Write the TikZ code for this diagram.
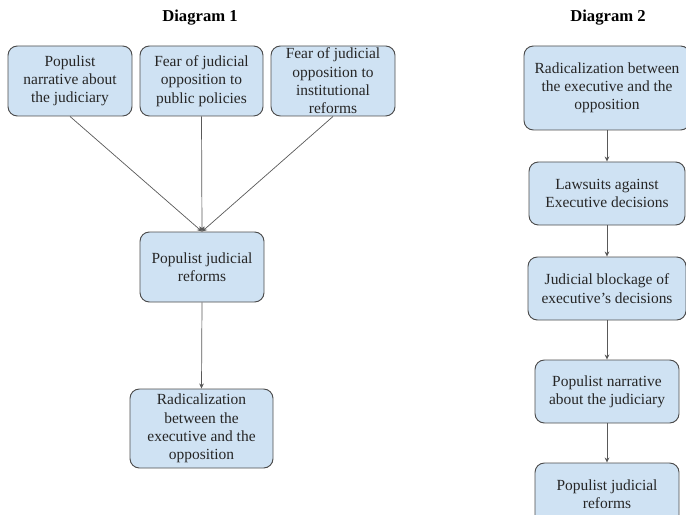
\documentclass[tikz,border=0pt]{standalone}
\usepackage{fontspec}
\setmainfont{Liberation Serif}
\usetikzlibrary{arrows.meta,positioning}
\definecolor{boxfill}{HTML}{CFE2F3}
\definecolor{boxline}{HTML}{4D4D4D}
\definecolor{boxtext}{HTML}{262626}

\begin{document}
\begin{tikzpicture}[
  font=\fontsize{13.2}{15.6}\selectfont,
  box/.style={draw=boxline, line width=0.8pt, rounded corners=8pt, align=center, text=boxtext, fill=boxfill, minimum width=#1, minimum height=2.1cm, inner sep=1pt},
  box/.default=3.72cm,
  title/.style={font=\fontsize{14.2}{16}\selectfont\bfseries},
  arr/.style={-{Stealth[length=1.5mm,width=1.4mm]}, line width=0.6pt, black!65},
  ]
\useasboundingbox (0,0) rectangle (20.58,-15.45);
% titles
\node[title] (t1) at (6.00,-0.54) {Diagram 1};
\node[title] (t2) at (18.24,-0.54) {Diagram 2};
% diagram 1
\node[box] (narr) at (2.10,-2.43) {Populist\\narrative about\\the judiciary};
\node[box=3.69cm] (fpol) at (6.045,-2.43) {Fear of judicial\\opposition to\\public policies};
\node[box] (finst) at (9.99,-2.43) {Fear of judicial\\opposition to\\institutional\\reforms};
\node[box] (ref1) at (6.06,-8.01) {Populist judicial\\reforms};
\node[box=4.29cm, minimum height=2.37cm] (rad1) at (6.045,-12.855) {Radicalization\\between the\\executive and the\\opposition};
% diagram 2
\node[box=4.98cm, minimum height=2.52cm] (rad2) at (18.21,-2.64) {Radicalization between\\the executive and the\\opposition};
\node[box=4.68cm, minimum height=1.89cm] (law) at (18.21,-5.805) {Lawsuits against\\Executive decisions};
\node[box=4.74cm, minimum height=1.89cm] (block) at (18.21,-8.655) {Judicial blockage of\\executive’s decisions};
\node[box=4.32cm, minimum height=1.89cm] (narr2) at (18.21,-11.745) {Populist narrative\\about the judiciary};
\node[box=4.32cm, minimum height=1.89cm] (ref2) at (18.21,-14.835) {Populist judicial\\reforms};
% arrows
\draw[arr] (narr.south) -- (ref1.north);
\draw[arr] (fpol.south) -- (ref1.north);
\draw[arr] (finst.south) -- (ref1.north);
\draw[arr] (ref1.south) -- (rad1.north);
\draw[arr] (rad2.south) -- (law.north);
\draw[arr] (law.south) -- (block.north);
\draw[arr] (block.south) -- (narr2.north);
\draw[arr] (narr2.south) -- (ref2.north);
\end{tikzpicture}
\end{document}
